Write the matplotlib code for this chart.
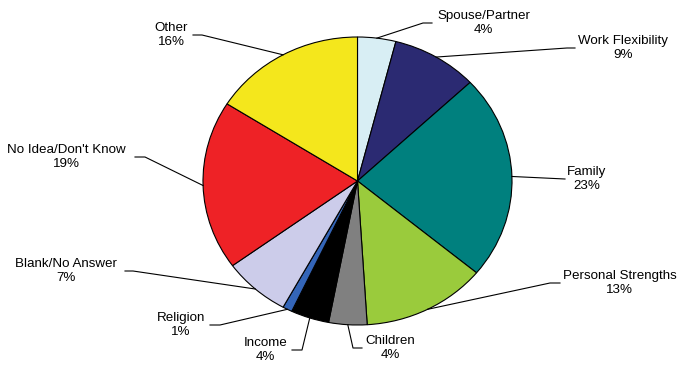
import numpy as np
import matplotlib
matplotlib.use("Agg")
from matplotlib import pyplot as plt

plt.rcParams['font.family'] = ['Liberation Sans', 'DejaVu Sans']

labels = ['Spouse/Partner', 'Work Flexibility', 'Family', 'Personal Strengths',
          'Children', 'Income', 'Religion', 'Blank/No Answer',
          "No Idea/Don't Know", 'Other']
values = [4, 9, 23, 13, 4, 4, 1, 7, 19, 16]
colors = ['#d8eef4', '#2b2a72', '#00807e', '#9acb3c', '#808080',
          '#000000', '#3465b8', '#ccccea', '#ee2226', '#f4e71c']

# label layout in pixels: (elbow x, elbow y, text x, side)
layout = [(432, 23, 437, 'L'), (575, 48, 578, 'L'), (565, 179, 567, 'L'),
          (560, 283, 563, 'L'), (362, 348, 365, 'L'), (292, 350, 287, 'R'),
          (210, 325, 205, 'R'), (125, 271, 117, 'R'), (135, 157, 126, 'R'),
          (193, 35, 188, 'R')]
bends = [(423, 23), (567, 48), (565, 179), (550, 283), (353, 348),
         (302, 350), (220, 325), (133, 271), (145, 157), (202, 35)]

W, H = 678, 369
cx, cy, rx, ry = 357.5, 181, 154.5, 144

def px(x, y):
    return (x - cx) / rx, (cy - y) / ry

fig = plt.figure(figsize=(W / 100, H / 100), dpi=100)
ax = fig.add_axes([0, 0, 1, 1])
wedges, _ = ax.pie(values, colors=colors, startangle=90, counterclock=False,
                   wedgeprops=dict(edgecolor='black', linewidth=0.8))
ax.set_aspect('auto')
ax.set_xlim(px(0, 0)[0], px(W, 0)[0])
ax.set_ylim(px(0, H)[1], px(0, 0)[1])
ax.axis('off')

for w, lab, v, (ex, ey, tx, side), (bx, by) in zip(wedges, labels, values, layout, bends):
    ang = np.deg2rad((w.theta1 + w.theta2) / 2)
    x0, y0 = np.cos(ang), np.sin(ang)
    x1, y1 = px(bx, by)
    x2, y2 = px(ex, ey)
    ax.plot([x0, x1, x2], [y0, y1, y2], color='black', lw=0.8)
    t = px(tx, ey)
    ax.text(t[0], t[1], f'{lab}\n{v}%', ha='left' if side == 'L' else 'right',
            va='center', multialignment='center', fontsize=9.6, linespacing=1.3)

fig.savefig('out.png', dpi=100)
